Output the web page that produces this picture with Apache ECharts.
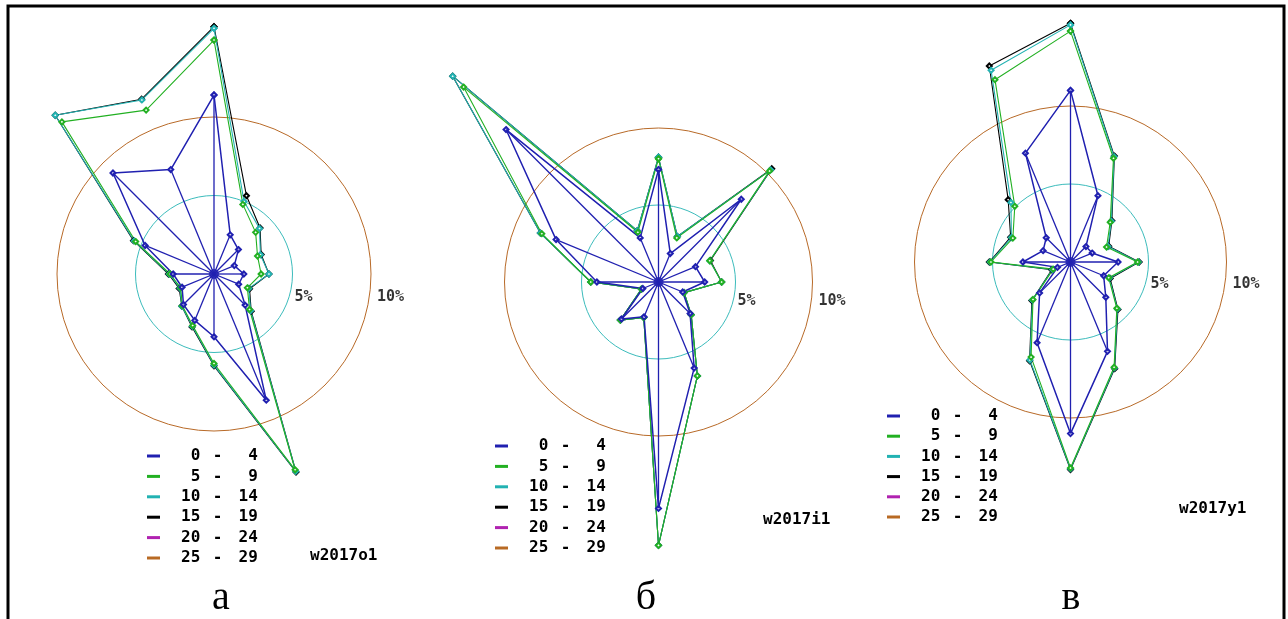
<!DOCTYPE html>
<html>
<head>
<meta charset="utf-8">
<script src="https://cdn.jsdelivr.net/npm/echarts@6/dist/echarts.min.js"></script>
<style>
  html, body { margin: 0; padding: 0; background: #ffffff; }
  #chart { width: 1288px; height: 619px; }
</style>
</head>
<body>
<div id="chart"></div>
<script>
// Wind direction sectors, clockwise from north
const directions = ['N', 'NNE', 'NE', 'ENE', 'E', 'ESE', 'SE', 'SSE', 'S', 'SSW', 'SW', 'WSW', 'W', 'WNW', 'NW', 'NNW'];
// Wind speed classes (legend entries)
const speedClasses = ['0 - 4', '5 - 9', '10 - 14', '15 - 19', '20 - 24', '25 - 29'];
// Reference rings (%) and their labels
const ringValues = [5, 10];
const ringLabels = ['5%', '10%'];
const panelLetters = ['а', 'б', 'в'];
const stationCodes = ['w2017o1', 'w2017i1', 'w2017y1'];

// Cumulative frequency (%) per direction — station w2017o1
const o1_0_4   = [11.4, 2.7, 2.2, 1.4, 1.9, 1.7, 2.8, 8.7, 4.0, 3.2, 2.75, 2.2, 2.6, 4.75, 9.1, 7.2];
const o1_5_9   = [14.9, 4.8, 3.75, 3.0, 3.0, 2.3, 3.2, 13.5, 5.7, 3.55, 2.85, 2.3, 2.8, 5.4, 13.7, 11.3];
const o1_10_14 = [15.65, 5.0, 4.1, 3.2, 3.5, 2.4, 3.3, 13.6, 5.8, 3.6, 2.9, 2.35, 2.85, 5.5, 14.3, 12.0];
const o1_15_19 = [15.75, 5.4, 4.15, 3.25, 3.5, 2.45, 3.35, 13.65, 5.85, 3.65, 2.9, 2.4, 2.9, 5.55, 14.3, 12.05];

// Cumulative frequency (%) per direction — station w2017i1
const i1_0_4   = [7.3, 2.0, 7.6, 2.6, 3.0, 1.7, 2.9, 6.05, 14.7, 2.45, 3.4, 1.1, 4.0, 7.2, 14.0, 3.1];
const i1_5_9   = [8.0, 3.1, 10.2, 3.6, 4.1, 1.8, 3.0, 6.6, 17.1, 2.5, 3.5, 1.2, 4.4, 8.2, 17.9, 3.5];
const i1_10_14 = [8.1, 3.2, 10.3, 3.6, 4.1, 1.8, 3.0, 6.6, 17.1, 2.5, 3.5, 1.2, 4.4, 8.3, 18.9, 3.6];
const i1_15_19 = [8.1, 3.2, 10.4, 3.65, 4.1, 1.8, 3.0, 6.6, 17.1, 2.5, 3.5, 1.2, 4.4, 8.3, 18.9, 3.6];

// Cumulative frequency (%) per direction — station w2017y1
const y1_0_4   = [11.0, 4.6, 1.4, 1.5, 3.05, 2.3, 3.2, 6.2, 11.0, 5.6, 2.8, 0.9, 3.05, 1.9, 2.2, 7.55];
const y1_5_9   = [14.8, 7.2, 3.6, 2.5, 4.3, 2.65, 4.2, 7.3, 13.2, 6.6, 3.4, 1.2, 5.1, 4.0, 5.05, 12.65];
const y1_10_14 = [15.2, 7.3, 3.7, 2.6, 4.35, 2.7, 4.25, 7.35, 13.25, 6.8, 3.45, 1.25, 5.15, 4.1, 5.4, 13.3];
const y1_15_19 = [15.3, 7.35, 3.75, 2.65, 4.4, 2.75, 4.3, 7.4, 13.3, 6.85, 3.5, 1.3, 5.2, 4.15, 5.65, 13.6];

// ---- styling & layout ----
const classColors = ['#2020b0', '#22b022', '#22b2b2', '#000000', '#b022b0', '#b86a24'];
const ringColors = { 5: '#3cbcbc', 10: '#b86a28' };
const MONO = '"DejaVu Sans Mono", monospace';
const RADIUS_MAX = 20;
const STEP = 22.5;

const panels = [
  { center: [214, 274], pxPerPct: 15.7, labelDy: 23, legend: [147, 448, 4.4], code: [310, 556], letter: [221, 598],
    series: [o1_0_4, o1_5_9, o1_10_14, o1_15_19] },
  { center: [658.5, 282], pxPerPct: 15.4, labelDy: 19, legend: [495, 438, 4.4], code: [763, 520], letter: [646, 598],
    series: [i1_0_4, i1_5_9, i1_10_14, i1_15_19] },
  { center: [1070.5, 262], pxPerPct: 15.6, labelDy: 22, legend: [887, 408, 4.2], code: [1179, 509], letter: [1071, 598],
    series: [y1_0_4, y1_5_9, y1_10_14, y1_15_19] }
];

function closedRing(values) {
  const pts = values.map((v, i) => [v, i * STEP]);
  pts.push([values[0], directions.length * STEP]);
  return pts;
}

const polar = [], angleAxis = [], radiusAxis = [], series = [], legend = [], graphic = [];

// outer frame
graphic.push({
  type: 'rect', silent: true,
  shape: { x: 8, y: 6, width: 1276, height: 660 },
  style: { fill: 'none', stroke: '#000', lineWidth: 3 }
});

const tickValues = [];
for (let v = 0; v <= RADIUS_MAX; v += 5) tickValues.push(v);
const splitColors = tickValues.map(v => ringColors[v] || 'rgba(0,0,0,0)');

const legendRich = {
  s: { width: 16 },
  a: { width: 31.8 },
  b: { width: 25.8 },
  c: { width: 20 }
};
Object.keys(legendRich).forEach(key => Object.assign(legendRich[key], {
  fontFamily: MONO, fontWeight: 'bold', fontSize: 16, lineHeight: 16, color: '#000', align: 'left'
}));

panels.forEach((p, k) => {
  polar.push({ center: p.center, radius: p.pxPerPct * RADIUS_MAX });
  angleAxis.push({
    polarIndex: k, type: 'value', min: 0, max: 360, startAngle: 90, clockwise: true, show: false
  });
  radiusAxis.push({
    polarIndex: k, type: 'value', min: 0, max: RADIUS_MAX, interval: 5,
    axisLine: { show: false }, axisTick: { show: false }, axisLabel: { show: false },
    splitArea: { show: false },
    splitLine: { show: true, lineStyle: { color: splitColors, width: 1 } }
  });

  // outer classes first so the lower classes stay on top
  for (let c = p.series.length - 1; c >= 0; c--) {
    const col = classColors[c];
    series.push({
      type: 'line', name: speedClasses[c], coordinateSystem: 'polar', polarIndex: k,
      data: closedRing(p.series[c]),
      color: col,
      symbol: 'emptyDiamond', symbolSize: 5,
      itemStyle: { color: col, borderColor: col, borderWidth: 1 },
      lineStyle: { color: col, width: c === 0 ? 1.5 : 1.1 },
      clip: false, silent: true, z: 3
    });
  }

  // spokes of the lowest class
  series.push({
    type: 'custom', coordinateSystem: 'polar', polarIndex: k, silent: true, z: 4,
    data: p.series[0].map((v, i) => [v, i * STEP]),
    renderItem(params, api) {
      const a = api.value(1);
      const p0 = api.coord([0, a]);
      const p1 = api.coord([api.value(0), a]);
      return {
        type: 'line',
        shape: { x1: p0[0], y1: p0[1], x2: p1[0], y2: p1[1] },
        style: { stroke: classColors[0], lineWidth: 1.3 }
      };
    }
  });

  // hub
  series.push({
    type: 'scatter', coordinateSystem: 'polar', polarIndex: k, silent: true, z: 5,
    data: [[0, 0]], symbol: 'circle', symbolSize: 10, itemStyle: { color: classColors[0] }
  });

  // ring labels
  series.push({
    type: 'scatter', coordinateSystem: 'polar', polarIndex: k, silent: true, z: 5,
    symbolSize: 0,
    data: ringValues.map((v, i) => ({
      value: [v, 90],
      label: { offset: [i === 0 ? 1 : 5, p.labelDy] }
    })),
    label: {
      show: true, position: 'right', distance: 1,
      formatter: (d) => ringLabels[d.dataIndex],
      fontFamily: MONO, fontWeight: 'bold', fontSize: 15, color: '#000'
    }
  });

  legend.push({
    orient: 'vertical', left: p.legend[0], top: p.legend[1], itemGap: p.legend[2], padding: 0,
    icon: 'rect', itemWidth: 13, itemHeight: 3, selectedMode: false,
    itemStyle: { borderWidth: 0 },
    data: speedClasses,
    formatter: (name) => {
      const parts = name.split(' - ');
      return '{s| }{a|' + parts[0].padStart(2, ' ') + '}{b|-}{c|' + parts[1].padStart(2, ' ') + '}';
    },
    textStyle: {
      fontFamily: MONO, fontWeight: 'bold', fontSize: 16, color: '#000', lineHeight: 16,
      rich: legendRich
    }
  });

  graphic.push({
    type: 'text', silent: true, x: p.code[0], y: p.code[1],
    style: { text: stationCodes[k], font: 'bold 16px ' + MONO, fill: '#000', align: 'left', verticalAlign: 'middle' }
  });
  graphic.push({
    type: 'text', silent: true, x: p.letter[0], y: p.letter[1],
    style: { text: panelLetters[k], font: '40px "Liberation Serif", serif', fill: '#000', align: 'center', verticalAlign: 'middle' }
  });
});

// classes without observations still appear in the legend
[4, 5].forEach(c => {
  series.push({
    type: 'line', name: speedClasses[c], coordinateSystem: 'polar', polarIndex: 0,
    data: [], color: classColors[c],
    itemStyle: { color: classColors[c] }, lineStyle: { color: classColors[c] }
  });
});

const chart = echarts.init(document.getElementById('chart'), null, { renderer: 'canvas' });
chart.setOption({
  backgroundColor: '#ffffff',
  animation: false,
  polar, angleAxis, radiusAxis, legend, series, graphic
});
</script>
</body>
</html>
